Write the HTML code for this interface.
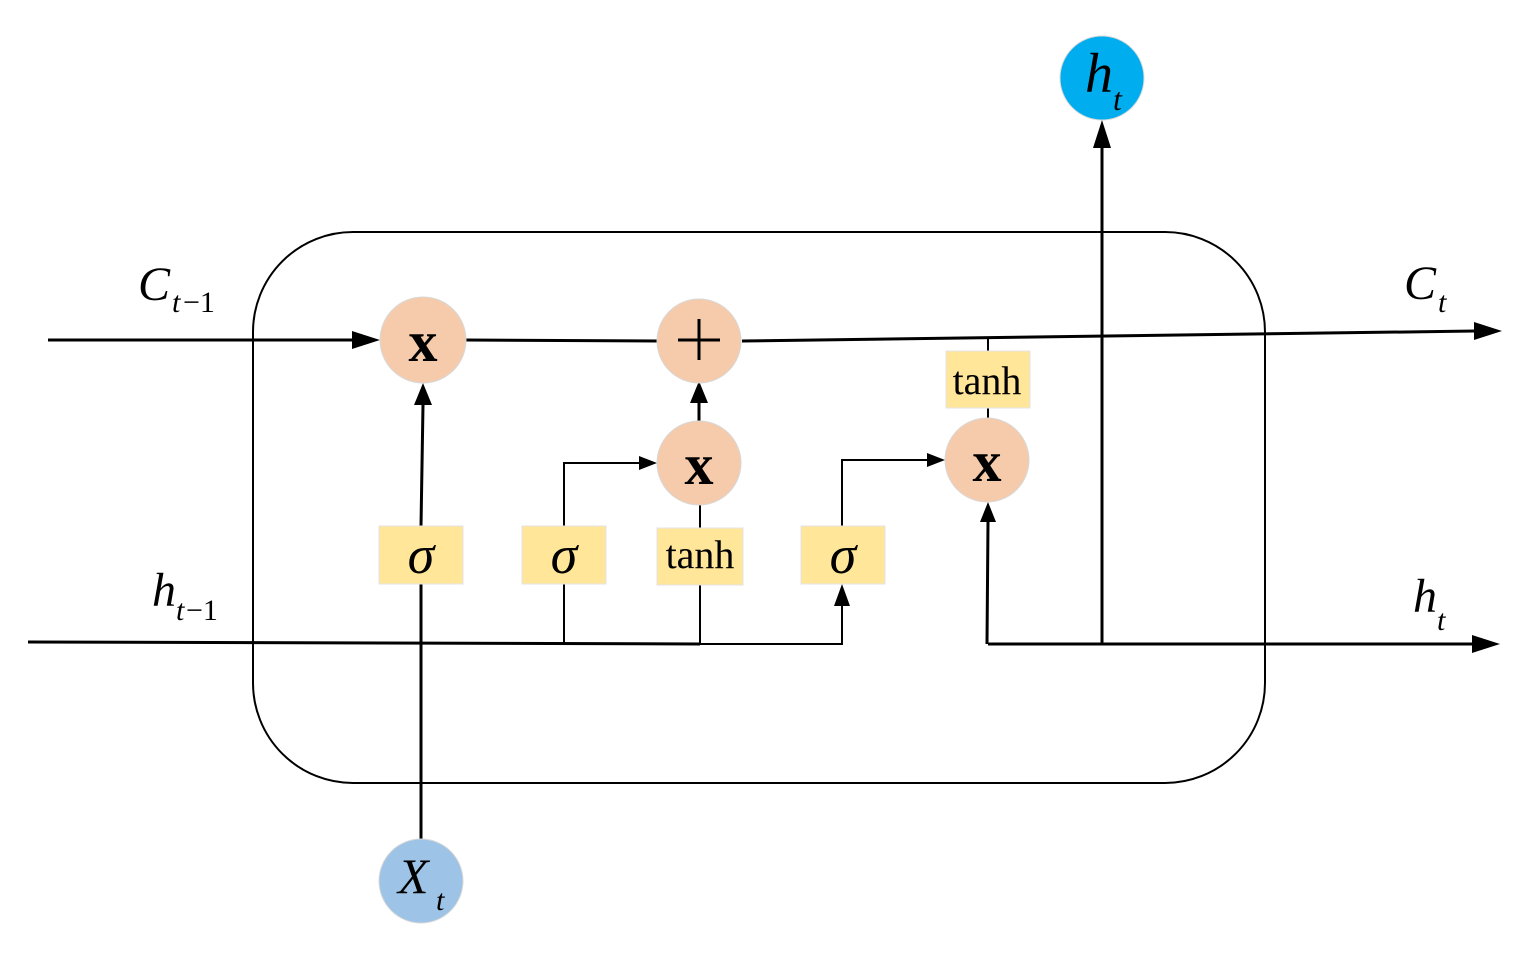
<!DOCTYPE html>
<html><head><meta charset="utf-8"><style>
html,body{margin:0;padding:0;background:#fff;}
svg{display:block;}
text{font-family:"Liberation Serif",serif;fill:#000;}
.it{font-style:italic;}
</style></head><body>
<svg width="1533" height="954" viewBox="0 0 1533 954" xmlns="http://www.w3.org/2000/svg">
<g stroke="#000" fill="none" stroke-width="2">
<rect x="253" y="232" width="1012" height="551" rx="100" ry="100"/>
</g>
<g stroke="#000" fill="none" stroke-width="3">
<!-- C line -->
<line x1="48" y1="340" x2="360" y2="340"/>
<line x1="466" y1="340" x2="657" y2="341"/>
<line x1="742" y1="341" x2="1475" y2="331"/>
<!-- h line -->
<line x1="28" y1="642" x2="700" y2="644"/>
<line x1="988" y1="644" x2="1475" y2="644"/>
<!-- Xt to forget gate -->
<line x1="421" y1="839" x2="421" y2="584"/>
<line x1="421" y1="526" x2="423" y2="405"/>
<!-- x2 to + -->
<line x1="699" y1="421" x2="699" y2="402"/>
<!-- h_t up -->
<line x1="1102" y1="644" x2="1102" y2="148"/>
<!-- right x bottom -->
<line x1="987" y1="644" x2="988" y2="522"/>
</g>
<g stroke="#000" fill="none" stroke-width="2">
<polyline points="564,643 564,584"/>
<polyline points="564,526 564,463 640,463"/>
<polyline points="700,644 700,585"/>
<line x1="700" y1="528" x2="700" y2="505"/>
<polyline points="700,644 842,644 842,604"/>
<polyline points="842,526 842,460 928,460"/>
<line x1="988" y1="338" x2="988" y2="351"/>
<line x1="988" y1="408" x2="988" y2="418"/>
</g>
<g fill="#000">
<polygon points="380,340 352,331 352,349"/>
<polygon points="1502,331 1474,322 1474,340"/>
<polygon points="1500,644 1472,635 1472,653"/>
<polygon points="423,383 414,405 432,405"/>
<polygon points="699,381 690,403 708,403"/>
<polygon points="1102,120 1093,148 1111,148"/>
<polygon points="988,502 980,522 996,522"/>
<polygon points="657,463 639,456 639,470"/>
<polygon points="945,460 927,453 927,467"/>
<polygon points="842,584 834,606 850,606"/>
</g>
<!-- circles -->
<g fill="#F5CBAC" stroke="#d8d8d8" stroke-width="1">
<circle cx="423" cy="340" r="43"/>
<circle cx="699" cy="341" r="42"/>
<circle cx="699" cy="463" r="42"/>
<circle cx="987" cy="460" r="42"/>
</g>
<circle cx="1102" cy="78" r="42" fill="#00AEEF" stroke="#d8d8d8"/>
<circle cx="421" cy="881" r="42" fill="#9DC3E6" stroke="#d8d8d8"/>
<!-- boxes -->
<g fill="#FFE699" stroke="#e3e3e3" stroke-width="1">
<rect x="379" y="526" width="84" height="58"/>
<rect x="522" y="526" width="84" height="58"/>
<rect x="657" y="528" width="86" height="57"/>
<rect x="801" y="526" width="84" height="58"/>
<rect x="946" y="351" width="84" height="57"/>
</g>
<!-- circle text -->
<g font-size="58" font-weight="bold" text-anchor="middle">
<text x="423" y="361">x</text>
<text x="699" y="484">x</text>
<text x="987" y="481">x</text>
</g>
<line x1="678" y1="340" x2="720" y2="340" stroke="#000" stroke-width="3"/>
<line x1="699" y1="319" x2="699" y2="360" stroke="#000" stroke-width="3"/>
<!-- sigma -->
<g font-size="54" class="it" text-anchor="middle">
<text x="421" y="573">σ</text>
<text x="564" y="573">σ</text>
<text x="843" y="573">σ</text>
</g>
<g font-size="40" text-anchor="middle">
<text x="700" y="568">tanh</text>
<text x="987" y="394">tanh</text>
</g>
<!-- labels -->
<text x="138" y="300" font-size="48" class="it">C</text>
<text x="172" y="312" font-size="30" class="it">t</text><text x="183" y="312" font-size="30">−1</text>
<text x="152" y="606" font-size="48" class="it">h</text>
<text x="176" y="620" font-size="30" class="it">t</text><text x="186" y="620" font-size="30">−1</text>
<text x="1404" y="299" font-size="48" class="it">C</text>
<text x="1438" y="312" font-size="30" class="it">t</text>
<text x="1413" y="612" font-size="48" class="it">h</text>
<text x="1437" y="630" font-size="30" class="it">t</text>
<text x="1085" y="92" font-size="56" class="it">h</text>
<text x="1113" y="110" font-size="32" class="it">t</text>
<text x="398" y="893" font-size="50" class="it">X</text>
<text x="436" y="910" font-size="30" class="it">t</text>
</svg>
</body></html>
